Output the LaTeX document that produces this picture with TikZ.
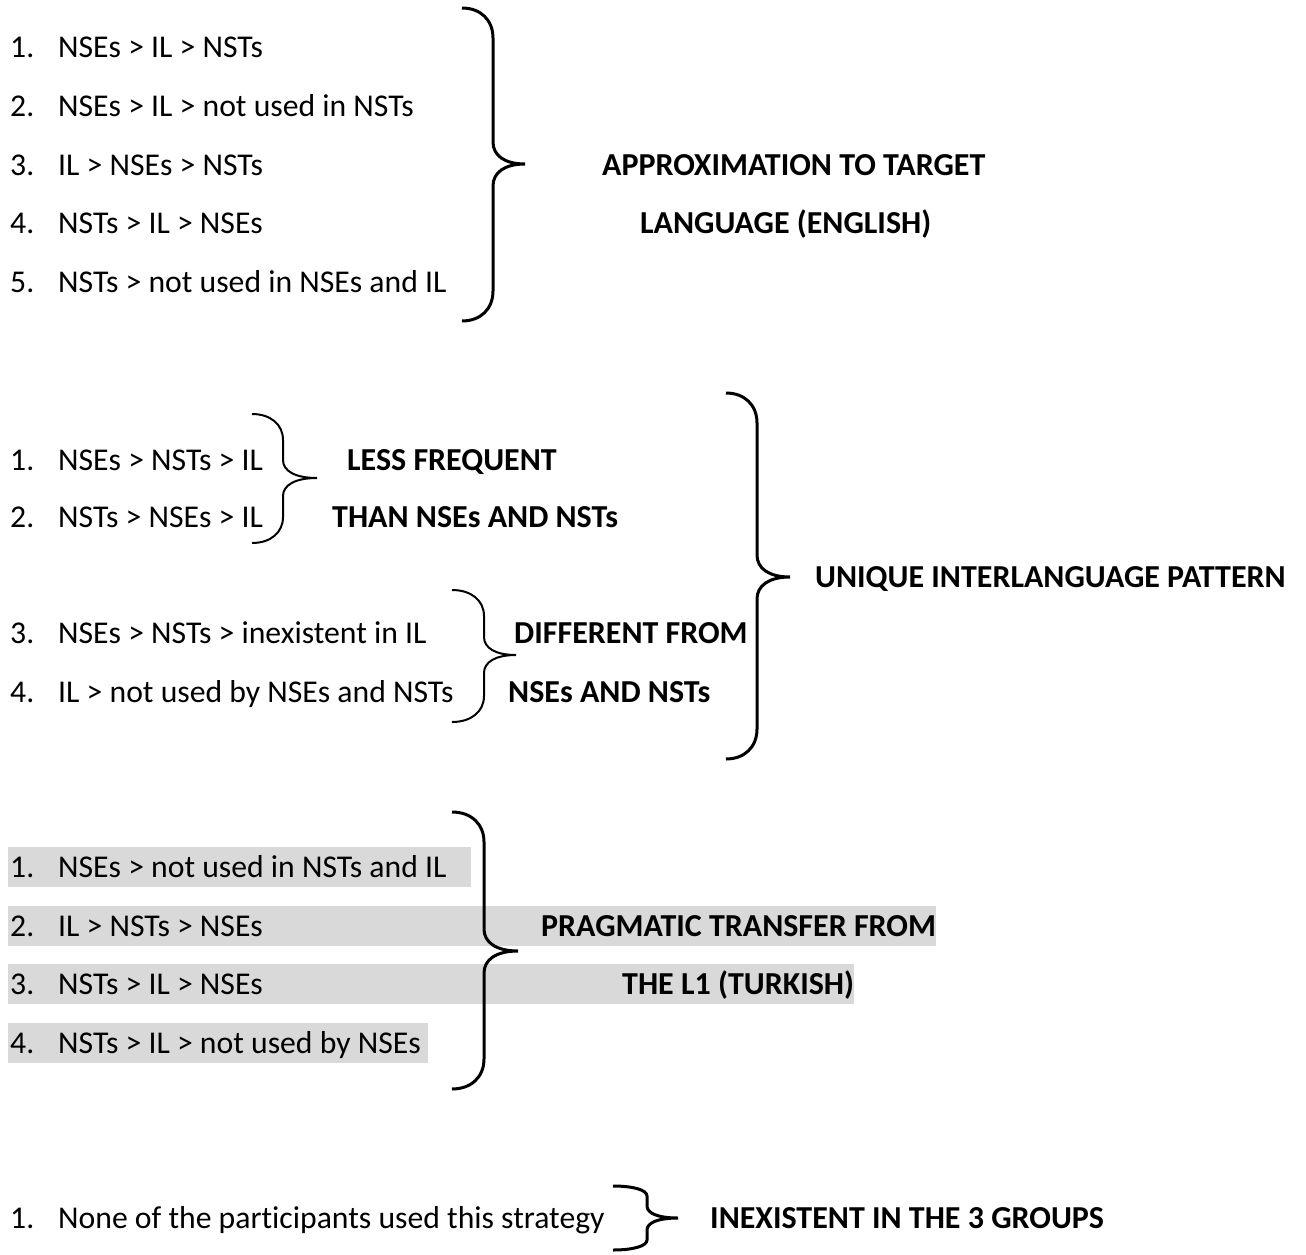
\documentclass[tikz,border=0pt]{standalone}
\usepackage{fontspec}
\setmainfont{Carlito}[Ligatures=NoCommon]
\usetikzlibrary{backgrounds}
\definecolor{hl}{RGB}{217,217,217}
\newcommand\RBr[9]{%
 \draw[line width=#1pt] (#2,#5) .. controls ({#2+0.6*(#3-#2)},#5) and (#3,{#5+0.4*#8}) .. (#3,{#5+#8})
   -- (#3,{#6-#9}) .. controls (#3,{#6-0.4*#9}) and ({#3+0.35*(#4-#3)},#6) .. (#4,#6)
   .. controls ({#3+0.35*(#4-#3)},#6) and (#3,{#6+0.4*#9}) .. (#3,{#6+#9})
   -- (#3,{#7-#8}) .. controls (#3,{#7-0.4*#8}) and ({#2+0.6*(#3-#2)},#7) .. (#2,#7);}
\begin{document}
\begin{tikzpicture}[x=1pt,y=-1pt,
  txt/.style={anchor=base west,inner sep=0pt,font=\fontsize{31.7}{38}\selectfont},
  lab/.style={anchor=base west,inner sep=0pt,font=\fontsize{32}{38}\selectfont\bfseries}]
\useasboundingbox (0,0) rectangle (1306,1255);
% ---------- section 1
\foreach \n/\t/\y in {1/{NSEs > IL > NSTs}/58, 2/{NSEs > IL > not used in NSTs}/116.5,
  3/{IL > NSEs > NSTs}/175, 4/{NSTs > IL > NSEs}/233.5, 5/{NSTs > not used in NSEs and IL}/292}{
  \node[txt] (an\n) at (10,\y) {\n.};
  \node[txt] (a\n) at (58,\y) {\t};
}
\RBr{3}{462}{493}{525}{8}{164}{321}{30}{22}
\node[lab] (la1) at (602,175) {APPROXIMATION TO TARGET};
\node[lab] (la2) at (640,233.5) {LANGUAGE (ENGLISH)};
% ---------- section 2
\foreach \n/\t/\y in {1/{NSEs > NSTs > IL}/470, 2/{NSTs > NSEs > IL}/527,
  3/{NSEs > NSTs > inexistent in IL}/643, 4/{IL > not used by NSEs and NSTs}/702}{
  \node[txt] (bn\n) at (10,\y) {\n.};
  \node[txt] (b\n) at (58,\y) {\t};
}
\RBr{2}{252}{283}{317}{414}{478}{543}{26}{18}
\node[lab] (lb1) at (347,470) {LESS FREQUENT};
\node[lab] (lb2) at (332,527) {THAN NSEs AND NSTs};
\RBr{2}{452}{484}{516}{590}{655}{722}{26}{18}
\node[lab] (lb3) at (514,643) {DIFFERENT FROM};
\node[lab] (lb4) at (508,702) {NSEs AND NSTs};
\RBr{3}{726}{757}{790}{393}{577}{759}{30}{22}
\node[lab] (lb5) at (815,587) {UNIQUE INTERLANGUAGE PATTERN};
% ---------- section 3
\foreach \n/\t/\y in {1/{NSEs > not used in NSTs and IL}/877, 2/{IL > NSTs > NSEs}/936,
  3/{NSTs > IL > NSEs}/994, 4/{NSTs > IL > not used by NSEs}/1053}{
  \node[txt] (cn\n) at (10,\y) {\n.};
  \node[txt] (c\n) at (58,\y) {\t};
}
\node[lab] (lc1) at (541,936) {PRAGMATIC TRANSFER FROM};
\node[lab] (lc2) at (622,994) {THE L1 (TURKISH)};
\coordinate (h1) at (471,887);
\coordinate (h2b) at (0,946);
\coordinate (h3b) at (0,1004);
\coordinate (h4) at (428,1063);
\begin{scope}[on background layer]
  \fill[hl] (8,847) rectangle (h1);
  \fill[hl] (8,906) rectangle (lc1.east |- h2b);
  \fill[hl] (8,964) rectangle (lc2.east |- h3b);
  \fill[hl] (8,1023) rectangle (h4);
\end{scope}
\RBr{3}{452}{484}{518}{812}{951}{1089}{30}{22}
% ---------- section 4
\node[txt] (dn1) at (10,1228) {1.};
\node[txt] (d1) at (58,1228) {None of the participants used this strategy};
\RBr{3}{613}{647}{678}{1186}{1218}{1250}{10}{12}
\node[lab] (ld1) at (710,1228) {INEXISTENT IN THE 3 GROUPS};
\end{tikzpicture}
\end{document}
